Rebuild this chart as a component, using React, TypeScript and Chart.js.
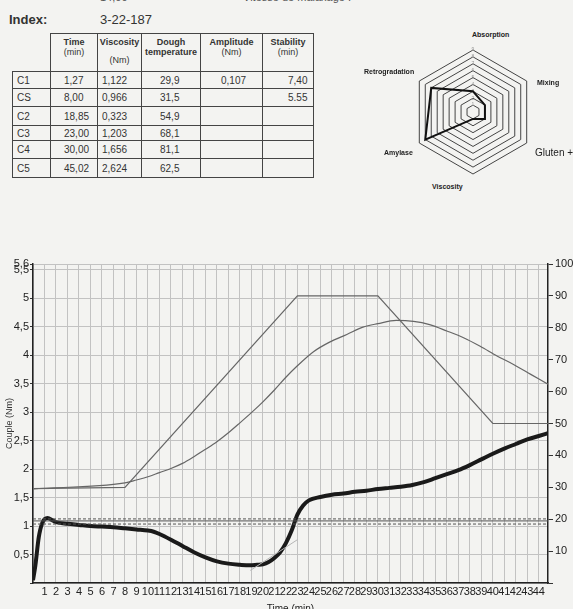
import React, { useEffect, useRef } from 'react';
import { Chart, registerables } from 'chart.js';

Chart.register(...registerables);

const FONT = '"Liberation Sans", Arial, sans-serif';

// ---- Table data ----
const ROW_LABELS = ['C1', 'CS', 'C2', 'C3', 'C4', 'C5'];
const ROW_TIME = ['1,27', '8,00', '18,85', '23,00', '30,00', '45,02'];
const ROW_VISCOSITY = ['1,122', '0,966', '0,323', '1,203', '1,656', '2,624'];
const ROW_DOUGH_TEMP = ['29,9', '31,5', '54,9', '68,1', '81,1', '62,5'];
const ROW_AMPLITUDE = ['0,107', '', '', '', '', ''];
const ROW_STABILITY = ['7,40', '5.55', '', '', '', ''];
const ROW_HEIGHTS = [17, 18, 19, 15, 18, 19];

// ---- Radar (profiler) ----
const RADAR_LABELS = ['Absorption', 'Mixing', 'Gluten +', 'Viscosity', 'Amylase', 'Retrogradation'];
const RADAR_VALUES = [3, 2, 2, 1, 8, 7];

// ---- Main curve ----
const TIME_TICKS = [0, 1, 2, 3, 4, 5, 6, 7, 8, 9, 10, 11, 12, 13, 14, 15, 16, 17, 18, 19, 20, 21, 22, 23, 24, 25, 26, 27, 28, 29, 30, 31, 32, 33, 34, 35, 36, 37, 38, 39, 40, 41, 42, 43, 44];
const LEFT_TICKS = [0, 0.5, 1, 1.5, 2, 2.5, 3, 3.5, 4, 4.5, 5, 5.5, 5.6];
const RIGHT_TICKS = [0, 10, 20, 30, 40, 50, 60, 70, 80, 90, 100];

const TORQUE_T = [0, 0.2, 0.5, 0.8, 1.27, 1.7, 2, 3, 4, 5, 6, 7, 8, 9, 10, 10.5, 11, 12, 13, 14, 15, 16, 17, 18, 18.85, 19.5, 20, 20.5, 21, 21.5, 22, 22.5, 23, 23.5, 24, 25, 26, 27, 28, 29, 30, 31, 32, 33, 34, 35, 36, 37, 38, 39, 40, 41, 42, 43, 44, 44.8];
const TORQUE_V = [0.05, 0.3, 0.8, 1.05, 1.14, 1.1, 1.07, 1.04, 1.02, 1.0, 0.99, 0.98, 0.96, 0.94, 0.92, 0.9, 0.86, 0.76, 0.65, 0.54, 0.45, 0.38, 0.34, 0.32, 0.31, 0.32, 0.33, 0.37, 0.44, 0.54, 0.7, 0.92, 1.2, 1.36, 1.45, 1.51, 1.55, 1.57, 1.6, 1.62, 1.65, 1.67, 1.69, 1.72, 1.77, 1.84, 1.91, 1.98, 2.07, 2.17, 2.27, 2.36, 2.44, 2.52, 2.58, 2.63];

const TARGET_T = [0, 8, 23, 30, 40, 44.8];
const TARGET_V = [29.6, 30, 90, 90, 50, 50];

const DOUGH_T = [0, 8, 9, 10, 11, 12, 13, 14, 15, 16, 17, 18, 19, 20, 21, 22, 23, 24.4, 25.8, 27.3, 28.7, 30, 31.6, 33.1, 34.5, 36, 37.5, 38.9, 40.4, 41.8, 43.3, 44.8];
const DOUGH_V = [29.5, 31.4, 32.3, 33.3, 34.6, 35.9, 37.5, 39.6, 41.9, 44.3, 47.1, 50.2, 53.4, 56.8, 60.5, 64.5, 68.1, 72.5, 75.5, 77.9, 80.2, 81.3, 82.3, 82, 81, 79, 76.8, 74.2, 71.1, 68.5, 65.4, 62.3];

const AUX_T = [18.9, 23];
const AUX_V = [0.22, 0.76];

const REF_UPPER = 1.125;
const REF_MID = 1.09;
const REF_LOWER = 1.035;
const X_MAX = 44.8;

function pts(xs: number[], ys: number[]) {
  return xs.map((x, i) => ({ x, y: ys[i] }));
}

function MainChart() {
  const ref = useRef<HTMLCanvasElement>(null);
  useEffect(() => {
    const tickFont = { family: FONT, size: 11 };
    const chart = new Chart(ref.current!, {
      type: 'line',
      data: {
        datasets: [
          { data: pts([0, X_MAX], [REF_UPPER, REF_UPPER]), borderColor: '#555', borderWidth: 1, borderDash: [3, 2], pointRadius: 0, yAxisID: 'y' },
          { data: pts([0, X_MAX], [REF_MID, REF_MID]), borderColor: '#555', borderWidth: 1, pointRadius: 0, yAxisID: 'y' },
          { data: pts([0, X_MAX], [REF_LOWER, REF_LOWER]), borderColor: '#555', borderWidth: 1, borderDash: [3, 2], pointRadius: 0, yAxisID: 'y' },
          { data: pts(AUX_T, AUX_V), borderColor: '#b5b5b5', borderWidth: 1, pointRadius: 0, yAxisID: 'y' },
          { data: pts(TARGET_T, TARGET_V), borderColor: '#666', borderWidth: 1.2, pointRadius: 0, tension: 0, yAxisID: 'y1' },
          { data: pts(DOUGH_T, DOUGH_V), borderColor: '#666', borderWidth: 1.2, pointRadius: 0, cubicInterpolationMode: 'monotone', yAxisID: 'y1' },
          { data: pts(TORQUE_T, TORQUE_V), borderColor: '#1a1a1a', borderWidth: 4, pointRadius: 0, cubicInterpolationMode: 'monotone', yAxisID: 'y' },
        ],
      },
      options: {
        animation: false,
        responsive: false,
        devicePixelRatio: 1,
        layout: { padding: { top: 19, left: 0, right: 0, bottom: 0 } },
        plugins: { legend: { display: false }, tooltip: { enabled: false } },
        scales: {
          x: {
            type: 'linear',
            min: 0,
            max: X_MAX,
            afterBuildTicks: (s: any) => { s.ticks = TIME_TICKS.map((v) => ({ value: v })); },
            afterFit: (s: any) => { s.height = 32; },
            ticks: { autoSkip: false, maxRotation: 0, padding: 2, color: '#222', font: tickFont, callback: (v: any) => (v === 0 ? '' : String(v)) },
            grid: { color: '#c2c2c2', lineWidth: 1, tickLength: 0 },
            border: { color: '#222', width: 1.5 },
            title: { display: true, text: 'Time (min)', color: '#222', font: { family: FONT, size: 10 }, padding: 0 },
          },
          y: {
            position: 'left',
            min: 0,
            max: 5.6,
            afterBuildTicks: (s: any) => { s.ticks = LEFT_TICKS.map((v) => ({ value: v })); },
            afterFit: (s: any) => { s.width = 33; },
            ticks: { autoSkip: false, padding: 1, color: '#222', font: tickFont, callback: (v: any) => (v === 0 ? '' : String(v).replace('.', ',')) },
            grid: { color: '#c2c2c2', lineWidth: 1, tickLength: 3, tickColor: '#333' },
            border: { color: '#222', width: 1.5 },
            title: { display: true, text: 'Couple (Nm)', color: '#333', font: { family: FONT, size: 9 }, padding: { top: 4, bottom: 0 } },
          },
          y1: {
            position: 'right',
            min: 0,
            max: 100,
            afterBuildTicks: (s: any) => { s.ticks = RIGHT_TICKS.map((v) => ({ value: v })); },
            afterFit: (s: any) => { s.width = 25; },
            ticks: { autoSkip: false, padding: 2, color: '#222', font: tickFont, callback: (v: any) => (v === 0 ? '' : String(v)) },
            grid: { drawOnChartArea: false, tickLength: 5, tickColor: '#333' },
            border: { color: '#222', width: 1.5 },
          },
        },
      } as any,
    });
    return () => chart.destroy();
  }, []);
  return <canvas ref={ref} width={573} height={370} style={{ position: 'absolute', left: 0, top: 245 }} />;
}

function RadarChart() {
  const ref = useRef<HTMLCanvasElement>(null);
  useEffect(() => {
    const chart = new Chart(ref.current!, {
      type: 'radar',
      data: {
        labels: RADAR_LABELS,
        datasets: [{ data: RADAR_VALUES, borderColor: '#111', borderWidth: 2, fill: false, pointRadius: 0 }],
      },
      options: {
        animation: false,
        responsive: false,
        devicePixelRatio: 1,
        layout: { padding: 3 },
        plugins: { legend: { display: false }, tooltip: { enabled: false } },
        scales: {
          r: {
            min: 0,
            max: 9,
            ticks: { stepSize: 1, display: true, showLabelBackdrop: false, color: '#999', font: { family: FONT, size: 5 } },
            grid: { color: '#444', lineWidth: 1 },
            angleLines: { display: false },
            pointLabels: { display: false },
          },
        },
      } as any,
    });
    return () => chart.destroy();
  }, []);
  return <canvas ref={ref} width={140} height={140} style={{ position: 'absolute', left: 403, top: 42 }} />;
}

const cellBase: React.CSSProperties = { border: '1px solid #444', fontFamily: FONT, fontSize: 10, color: '#333', padding: 0, whiteSpace: 'nowrap' };

const radarLabel = (text: string, left: number, top: number, size = 7, bold = true): React.ReactNode => (
  <div key={text} style={{ position: 'absolute', left, top, fontFamily: FONT, fontSize: size, fontWeight: bold ? 'bold' : 'normal', color: '#222', whiteSpace: 'nowrap', lineHeight: 1 }}>{text}</div>
);

export default function App() {
  const colW = [38, 47, 44, 59, 62, 51];
  return (
    <div style={{ position: 'fixed', left: 0, top: 0, width: 573, height: 609, overflow: 'hidden', background: '#f3f3f1' }}>
      <div style={{ position: 'absolute', left: 100, top: -9, fontFamily: FONT, fontSize: 11, color: '#555' }}>14,00</div>
      <div style={{ position: 'absolute', left: 243, top: -9, fontFamily: FONT, fontSize: 11, color: '#555' }}>Vitesse de malaxage :</div>
      <div style={{ position: 'absolute', left: 9, top: 12, fontFamily: FONT, fontSize: 13, fontWeight: 'bold', color: '#333' }}>Index:</div>
      <div style={{ position: 'absolute', left: 100, top: 12, fontFamily: FONT, fontSize: 13, color: '#333' }}>3-22-187</div>
      <table style={{ position: 'absolute', left: 12, top: 33, borderCollapse: 'collapse', tableLayout: 'fixed' }}>
        <colgroup>
          {colW.map((w, i) => <col key={i} style={{ width: w }} />)}
        </colgroup>
        <tbody>
          <tr style={{ height: 38 }}>
            <td style={{ ...cellBase, border: 'none', borderBottom: '1px solid #444' }}></td>
            <td style={{ ...cellBase, verticalAlign: 'top', textAlign: 'center', fontSize: 9, paddingTop: 3 }}><b>Time</b><br />(min)</td>
            <td style={{ ...cellBase, verticalAlign: 'top', textAlign: 'center', fontSize: 9, paddingTop: 3 }}><b>Viscosity</b><br /><div style={{ marginTop: 8 }}>(Nm)</div></td>
            <td style={{ ...cellBase, verticalAlign: 'top', textAlign: 'center', fontSize: 9, paddingTop: 3, lineHeight: '10px' }}><b>Dough<br />temperature</b></td>
            <td style={{ ...cellBase, verticalAlign: 'top', textAlign: 'center', fontSize: 9, paddingTop: 3 }}><b>Amplitude</b><br />(Nm)</td>
            <td style={{ ...cellBase, verticalAlign: 'top', textAlign: 'center', fontSize: 9, paddingTop: 3 }}><b>Stability</b><br />(min)</td>
          </tr>
          {ROW_LABELS.map((lab, i) => (
            <tr key={lab} style={{ height: ROW_HEIGHTS[i] }}>
              <td style={{ ...cellBase, paddingLeft: 4 }}>{lab}</td>
              <td style={{ ...cellBase, paddingLeft: 13 }}>{ROW_TIME[i]}</td>
              <td style={{ ...cellBase, paddingLeft: 4 }}>{ROW_VISCOSITY[i]}</td>
              <td style={{ ...cellBase, paddingLeft: 18 }}>{ROW_DOUGH_TEMP[i]}</td>
              <td style={{ ...cellBase, paddingLeft: 20 }}>{ROW_AMPLITUDE[i]}</td>
              <td style={{ ...cellBase, paddingLeft: 25 }}>{ROW_STABILITY[i]}</td>
            </tr>
          ))}
        </tbody>
      </table>
      <RadarChart />
      {radarLabel(RADAR_LABELS[0], 472, 31)}
      {radarLabel(RADAR_LABELS[1], 537, 79)}
      {radarLabel(RADAR_LABELS[2], 535, 148, 10, false)}
      {radarLabel(RADAR_LABELS[3], 432, 183)}
      {radarLabel(RADAR_LABELS[4], 384, 149)}
      {radarLabel(RADAR_LABELS[5], 364, 68)}
      <MainChart />
    </div>
  );
}
